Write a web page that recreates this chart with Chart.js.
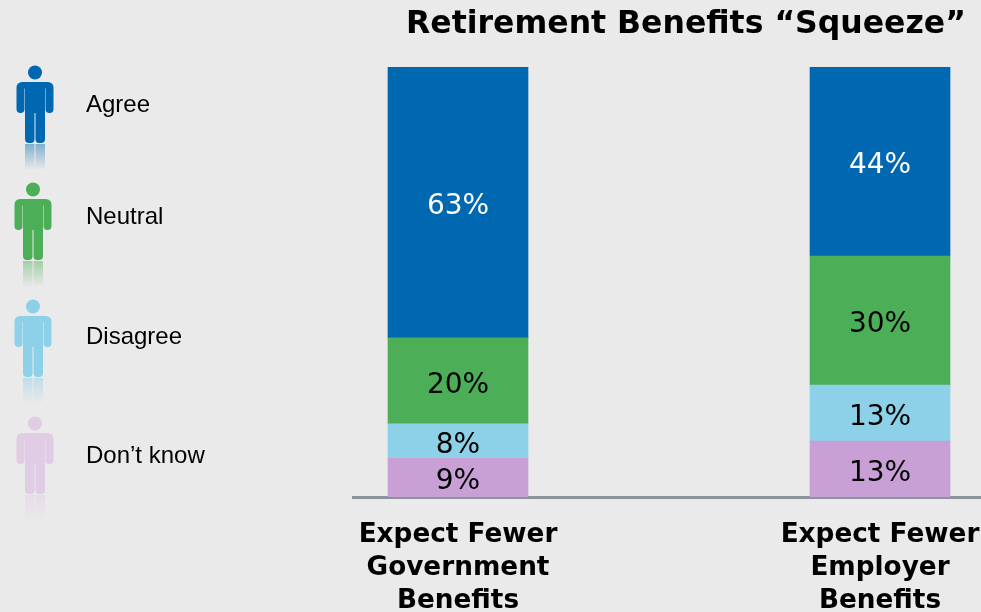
<!DOCTYPE html>
<html>
<head>
<meta charset="utf-8">
<title>Retirement Benefits Squeeze</title>
<script src="https://cdn.jsdelivr.net/npm/chart.js@4"></script>
<style>
  html, body { margin: 0; padding: 0; width: 981px; height: 612px; overflow: hidden; background: #eaeaea; }
  #wrap { position: relative; width: 981px; height: 612px; }
  #chart { position: absolute; left: 0; top: 0; }
  h1 { position: absolute; left: 353px; width: 666px; top: 3px; margin: 0; text-align: center; color: #000;
       font: bold 31.5px/38px "DejaVu Sans", sans-serif; white-space: nowrap; }
  .key { position: absolute; left: 86px; color: #000; font: 24px/30px "Liberation Sans", Arial, sans-serif; white-space: nowrap; }
  svg.person { position: absolute; overflow: visible; }
</style>
</head>
<body>
<div id="wrap">
  <canvas id="chart" width="981" height="612"></canvas>
  <h1>Retirement Benefits “Squeeze”</h1>
</div>
<script>
const categories = [['Expect Fewer', 'Government', 'Benefits'], ['Expect Fewer', 'Employer', 'Benefits']];
const seriesNames = ['Agree', 'Neutral', 'Disagree', 'Don’t know'];
const agree = [63, 44];
const neutral = [20, 30];
const disagree = [8, 13];
const dontKnow = [9, 13];

const barColors = ['#0067b1', '#4caf58', '#8dd1e8', '#c9a0d6'];
const iconColors = ['#0067b1', '#4caf58', '#8dd1e8', '#e0cce4'];
const labelColors = ['#fff', '#000', '#000', '#000'];

// legend figures: x centre, top of the shoulders, y of the text line
const figureX = [34.5, 33, 33, 34.5];
const figureY = [82, 199, 316, 433];
const keyY = [89, 201, 321, 440];

function q(id){ return document.getElementById(id); }

// one person icon with a faded reflection of the legs underneath
function addPerson(i){
  const c = iconColors[i];
  const svg = `<svg class="person" width="40" height="110" viewBox="-20 -18 40 110"
      style="left:${figureX[i]-20}px;top:${figureY[i]-18}px">
    <defs><linearGradient id="fade${i}" x1="0" y1="0" x2="0" y2="1">
      <stop offset="0" stop-color="${c}" stop-opacity="0.45"/>
      <stop offset="1" stop-color="${c}" stop-opacity="0"/>
    </linearGradient></defs>
    <circle cx="0" cy="-9.5" r="7" fill="${c}"/>
    <path fill="${c}" d="M-13 0H13A5.5 5.5 0 0 1 18.5 5.5V27A4 4 0 0 1 10.5 27V6.5H10V57A4 4 0 0 1 6 61H4A3.5 4 0 0 1 .5 57V31H-.5V57A3.5 4 0 0 1 -4 61H-6A4 4 0 0 1 -10 57V6.5H-10.5V27A4 4 0 0 1 -18.5 27V5.5A5.5 5.5 0 0 1 -13 0Z"/>
    <rect x="-10" y="62" width="9.5" height="26" fill="url(#fade${i})"/>
    <rect x="0.5" y="62" width="9.5" height="26" fill="url(#fade${i})"/>
  </svg>`;
  q('wrap').insertAdjacentHTML('beforeend', svg);
  const d = document.createElement('div');
  d.className = 'key';
  d.style.top = keyY[i] + 'px';
  d.innerText = seriesNames[i];
  q('wrap').appendChild(d);
}
seriesNames.forEach((_, i) => addPerson(i));

const series = [agree, neutral, disagree, dontKnow];

// stacked bottom-up, so the last series goes first
const datasets = [3, 2, 1, 0].map(i => ({
  label: seriesNames[i],
  data: series[i].map((v, k) => ({ x: k, y: v })),
  backgroundColor: barColors[i],
  stack: 'all',
  barThickness: 140,
  labelColor: labelColors[i]
}));

// percentage text in the middle of each segment
const valueLabels = {
  id: 'valueLabels',
  afterDatasetsDraw(chart){
    const ctx = chart.ctx;
    ctx.save();
    ctx.font = '28px "DejaVu Sans", sans-serif';
    ctx.textAlign = 'center';
    ctx.textBaseline = 'middle';
    chart.data.datasets.forEach((ds, d) => {
      chart.getDatasetMeta(d).data.forEach((bar, k) => {
        const p = bar.getCenterPoint();
        ctx.fillStyle = ds.labelColor;
        ctx.fillText(ds.data[k].y + '%', p.x, p.y + 4.5);
      });
    });
    ctx.restore();
  }
};

new Chart(q('chart').getContext('2d'), {
  type: 'bar',
  data: { datasets },
  plugins: [valueLabels],
  options: {
    responsive: false,
    animation: false,
    layout: { padding: { left: 353, top: 67, right: 0, bottom: 0 } },
    plugins: { legend: { display: false }, title: { display: false }, tooltip: { enabled: false } },
    scales: {
      x: {
        type: 'linear',
        offset: false,
        min: -0.2488,
        max: 1.2393,
        grid: { display: false, drawTicks: false, offset: false },
        border: { color: '#8a949c', width: 3 },
        afterBuildTicks(scale){ scale.ticks = categories.map((_, i) => ({ value: i })); },
        afterFit(scale){ scale.height = 115; scale.paddingLeft = 0; scale.paddingRight = 0; },
        ticks: {
          autoSkip: false,
          maxRotation: 0,
          minRotation: 0,
          padding: 22,
          color: '#000',
          font: { family: '"DejaVu Sans", sans-serif', size: 26.3, weight: 'bold', lineHeight: 1.25 },
          callback: v => categories[v]
        }
      },
      y: { stacked: true, display: false, min: 0, max: 100 }
    }
  }
});
</script>
</body>
</html>
